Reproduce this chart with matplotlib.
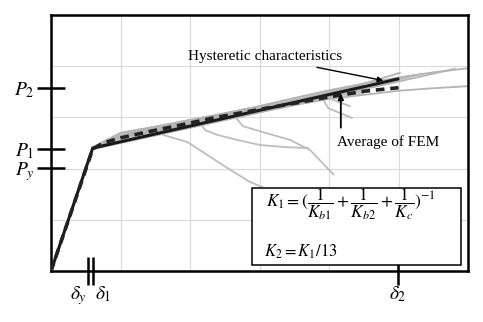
import matplotlib.pyplot as plt
import numpy as np

plt.rcParams['mathtext.fontset'] = 'stix'
plt.rcParams['font.family'] = 'Liberation Serif'

# bilinear model (K1 up to the knee, K2 = K1/13 after it)
model_x = [0.0, 0.60, 4.99]
model_y = [0.0, 2.40, 3.75]

# average of the FEM runs
avg_x = [0.0, 0.60, 0.75, 1.0, 1.4, 1.9, 2.3, 2.7, 3.1, 3.6, 4.0, 4.5, 5.0]
avg_y = [0.0, 2.38, 2.50, 2.60, 2.72, 2.86, 2.98, 3.08, 3.18, 3.30, 3.40, 3.51, 3.58]

# scatter band of the FEM runs
band_x = [0.60, 1.0, 1.5, 2.0, 2.5, 3.0, 3.5, 4.0, 4.5]
band_lo = [2.38, 2.50, 2.64, 2.79, 2.94, 3.09, 3.24, 3.38, 3.46]
band_hi = [2.44, 2.72, 2.85, 2.98, 3.11, 3.25, 3.40, 3.55, 3.67]

# individual FEM curves
fem_runs = [
    ([0.6, 1.0, 1.5, 2.0, 2.5, 3.0, 3.5, 4.0, 4.5, 5.0, 5.5, 6.0],
     [2.42, 2.70, 2.82, 2.95, 3.08, 3.22, 3.38, 3.53, 3.66, 3.78, 3.88, 3.96]),
    ([0.6, 1.0, 2.0, 3.0, 4.0, 4.5, 5.02],
     [2.40, 2.66, 2.92, 3.18, 3.48, 3.66, 3.87]),
    ([0.6, 1.0, 2.0, 3.0, 4.0, 4.7, 5.34],
     [2.40, 2.62, 2.88, 3.14, 3.44, 3.64, 3.85]),
    ([0.6, 1.0, 2.0, 3.0, 4.0, 5.0, 5.81],
     [2.40, 2.60, 2.86, 3.12, 3.40, 3.70, 3.95]),
    ([0.6, 1.0, 2.0, 3.0, 3.5, 4.0, 4.5, 5.0, 5.5, 6.0],
     [2.38, 2.50, 2.80, 3.10, 3.24, 3.36, 3.44, 3.52, 3.57, 3.61]),
]

# softening branches of some runs
branches = [
    ([1.50, 1.61, 1.96, 2.19, 2.47, 2.86, 3.04], [2.74, 2.66, 2.52, 2.32, 2.07, 1.74, 1.64]),
    ([2.10, 2.14, 2.22, 2.39, 2.68, 3.01, 3.37, 3.70], [2.95, 2.89, 2.75, 2.66, 2.56, 2.46, 2.42, 2.40]),
    ([2.60, 2.65, 2.76, 3.08, 3.44, 3.73, 4.06], [3.06, 3.01, 2.83, 2.70, 2.56, 2.36, 1.89]),
    ([3.85, 3.90, 3.99, 4.33], [3.42, 3.38, 3.18, 2.99]),
    ([3.90, 3.94, 4.30], [3.44, 3.40, 3.22]),
]

x_ticks = [0.53, 0.60, 4.99]
y_ticks = [2.01, 2.38, 3.57]
y_labels = ['$P_y$', '$P_1$', '$P_2$']

fig = plt.figure(figsize=(4.83, 3.22), dpi=100)
ax = fig.add_axes([0.1056, 0.1584, 0.8634, 0.795])

ax.set_xlim(0, 6)
ax.set_ylim(0, 5)
ax.set_xticks(range(7), minor=False)
ax.set_yticks(range(6), minor=False)
ax.grid(True, color='#dadada', lw=0.8)
ax.tick_params(which='major', length=0, labelbottom=False, labelleft=False)

# real ticks as minor ticks so the grid stays on integer positions
ax.set_xticks(x_ticks, minor=True)
ax.set_yticks(y_ticks, minor=True)
ax.set_yticklabels(y_labels, minor=True, fontsize=14)
ax.set_xticklabels([], minor=True)
ax.tick_params(which='minor', direction='inout', length=20, width=1.8, color='black')
ax.tick_params(axis='y', which='minor', pad=2)

for s in ax.spines.values():
    s.set_linewidth(1.8)

ax.text(x_ticks[0] - 0.02, -0.26, r'$\delta_y$', ha='right', va='top', fontsize=14)
ax.text(x_ticks[1] + 0.04, -0.26, r'$\delta_1$', ha='left', va='top', fontsize=14)
ax.text(x_ticks[2], -0.26, r'$\delta_2$', ha='center', va='top', fontsize=14)

ax.fill_between(band_x, band_lo, band_hi, color='#c6c6c6', lw=0, zorder=2)
for fx, fy in fem_runs:
    ax.plot(fx, fy, color='#b4b4b4', lw=1.3, zorder=2)
for bx, by in branches:
    ax.plot(bx, by, color='#bdbdbd', lw=1.3, zorder=2)

ax.plot(model_x, model_y, color='#1a1a1a', lw=2.2, zorder=3)
ax.plot(avg_x, avg_y, color='#222222', lw=2.6, ls=(0, (2.4, 1.6)), zorder=4)

ax.annotate('Hysteretic characteristics', xy=(4.78, 3.72), xytext=(1.97, 4.18),
            fontsize=11, va='center', ha='left', zorder=5,
            arrowprops=dict(arrowstyle='-|>', color='black', lw=1.0,
                            mutation_scale=8, shrinkA=4, shrinkB=0))
ax.annotate('', xy=(4.17, 3.46), xytext=(4.17, 2.80), zorder=5,
            arrowprops=dict(arrowstyle='-|>', color='black', lw=1.3,
                            mutation_scale=8, shrinkA=0, shrinkB=0))
ax.text(4.12, 2.52, 'Average of FEM', fontsize=11, va='center', ha='left', zorder=5)

# stiffness box
ax.add_patch(plt.Rectangle((2.89, 0.117), 3.01, 1.50, facecolor='white',
                           edgecolor='black', lw=1.1, zorder=6))
ax.text(3.10, 1.31, r'$K_1 = (\dfrac{1}{K_{b1}}+\dfrac{1}{K_{b2}}+\dfrac{1}{K_c})^{-1}$',
        fontsize=12.5, va='center', ha='left', zorder=7)
ax.text(3.07, 0.37, r'$K_2 = K_1/13$', fontsize=12, va='center', ha='left', zorder=7)

plt.savefig('out.png', dpi=100)
